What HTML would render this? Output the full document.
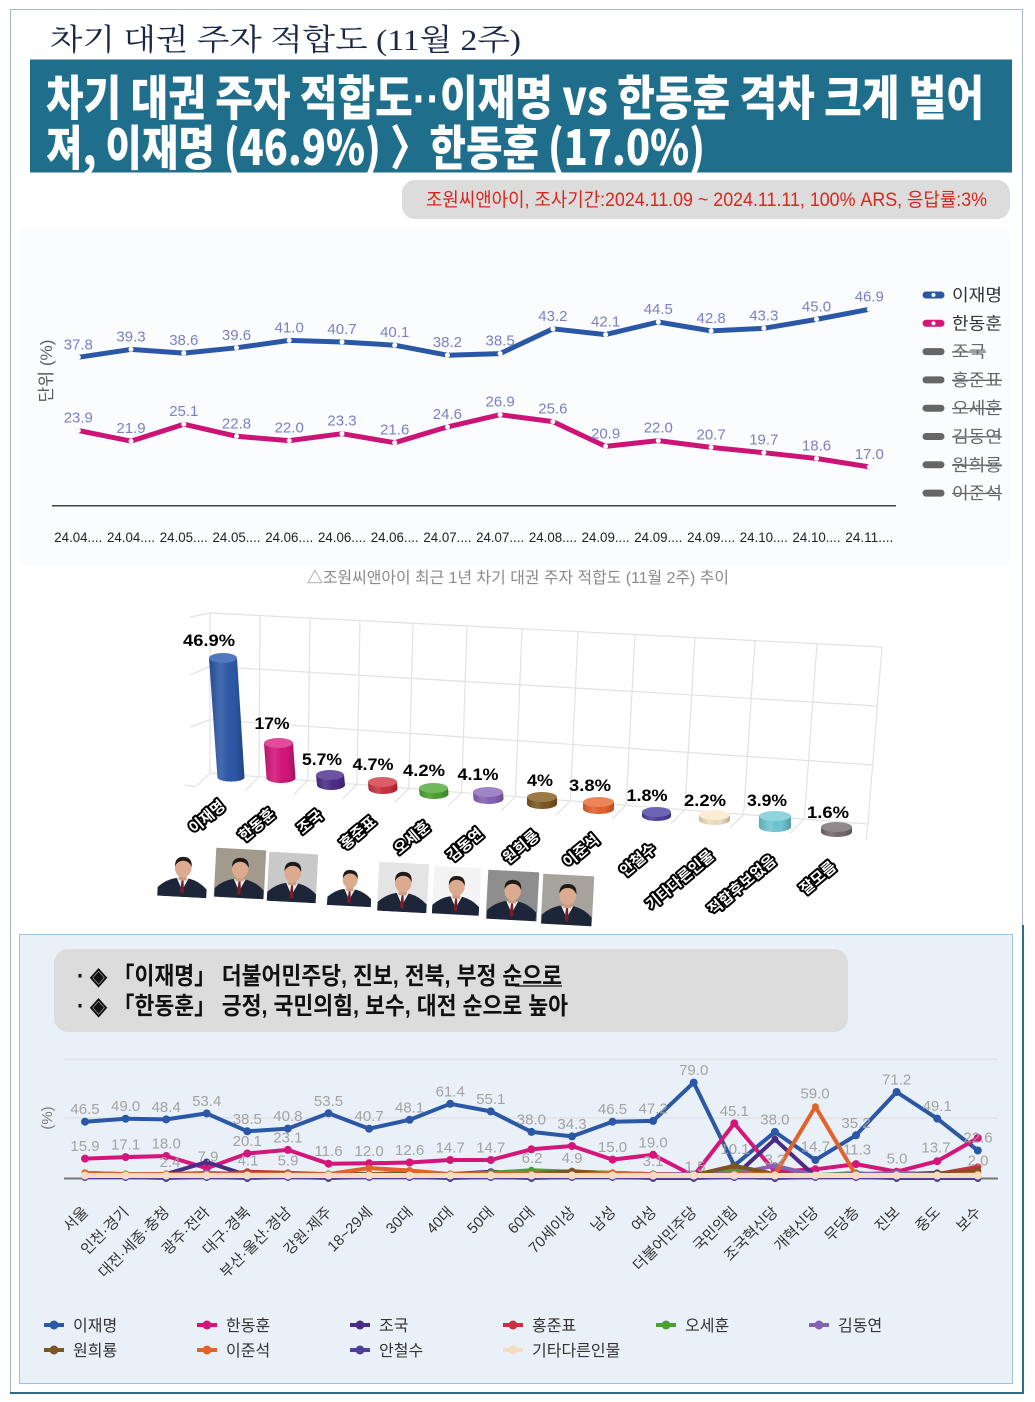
<!DOCTYPE html>
<html><head><meta charset="utf-8">
<style>
html,body{margin:0;padding:0;background:#fff;}
body{width:1035px;height:1402px;overflow:hidden;}
svg{display:block;}
.s{font-family:"Liberation Sans","Noto Sans CJK KR",sans-serif;}
.sf{font-family:"Liberation Serif","Noto Serif CJK SC",serif;}
.h{font-family:"Noto Sans CJK KR","Liberation Sans",sans-serif;font-weight:900;}
.nm{font-family:"Liberation Sans","Noto Sans CJK KR",sans-serif;font-weight:bold;font-size:15px;fill:#fff;stroke:#000;stroke-width:4;paint-order:stroke;stroke-linejoin:round;}
.vl{font-family:"Liberation Sans",sans-serif;font-weight:bold;font-size:17px;fill:#000;}
.tl{font-family:"Liberation Sans",sans-serif;font-size:15px;fill:#7c80c2;}
.bl{font-family:"Liberation Sans",sans-serif;font-size:15px;fill:#a3a3a3;}
.xl{font-family:"Liberation Sans","Noto Sans CJK KR",sans-serif;font-size:15px;fill:#333;}
</style></head><body>
<svg width="1035" height="1402" viewBox="0 0 1035 1402" xmlns="http://www.w3.org/2000/svg">
<defs>
<linearGradient id="cyl" x1="0" y1="0" x2="1" y2="0">
<stop offset="0" stop-color="#000" stop-opacity="0.15"/>
<stop offset="0.35" stop-color="#fff" stop-opacity="0.12"/>
<stop offset="0.7" stop-color="#000" stop-opacity="0"/>
<stop offset="1" stop-color="#000" stop-opacity="0.22"/>
</linearGradient>
<marker id="mw" markerWidth="8" markerHeight="8" refX="4" refY="4" markerUnits="userSpaceOnUse"><circle cx="4" cy="4" r="2.5" fill="#fff"/></marker>
<marker id="m1" markerWidth="10" markerHeight="10" refX="5" refY="5" markerUnits="userSpaceOnUse"><circle cx="5" cy="5" r="4" fill="#2b58a6"/></marker>
<marker id="m2" markerWidth="10" markerHeight="10" refX="5" refY="5" markerUnits="userSpaceOnUse"><circle cx="5" cy="5" r="4" fill="#d4157a"/></marker>
<marker id="m3" markerWidth="10" markerHeight="10" refX="5" refY="5" markerUnits="userSpaceOnUse"><circle cx="5" cy="5" r="3.5" fill="#4b2c85"/></marker>
<marker id="m4" markerWidth="10" markerHeight="10" refX="5" refY="5" markerUnits="userSpaceOnUse"><circle cx="5" cy="5" r="3.5" fill="#c8313f"/></marker>
<marker id="m5" markerWidth="10" markerHeight="10" refX="5" refY="5" markerUnits="userSpaceOnUse"><circle cx="5" cy="5" r="3.5" fill="#4aa032"/></marker>
<marker id="m6" markerWidth="10" markerHeight="10" refX="5" refY="5" markerUnits="userSpaceOnUse"><circle cx="5" cy="5" r="3.5" fill="#8462b3"/></marker>
<marker id="m7" markerWidth="10" markerHeight="10" refX="5" refY="5" markerUnits="userSpaceOnUse"><circle cx="5" cy="5" r="3.5" fill="#7b5522"/></marker>
<marker id="m8" markerWidth="10" markerHeight="10" refX="5" refY="5" markerUnits="userSpaceOnUse"><circle cx="5" cy="5" r="3.5" fill="#e2622c"/></marker>
<marker id="m9" markerWidth="10" markerHeight="10" refX="5" refY="5" markerUnits="userSpaceOnUse"><circle cx="5" cy="5" r="3.5" fill="#4d3f9c"/></marker>
<marker id="m10" markerWidth="10" markerHeight="10" refX="5" refY="5" markerUnits="userSpaceOnUse"><circle cx="5" cy="5" r="4" fill="#f5dcc0"/></marker>
<symbol id="person" viewBox="0 0 50 50">
<path d="M0,50 L0,41 Q8,33 18,31 L32,31 Q42,33 50,41 L50,50 Z" fill="#1d2638"/>
<path d="M19,31 L25,43 L31,31 Z" fill="#f2f2f2"/>
<path d="M24,33 L26,33 L27,45 L25,47 L23,45 Z" fill="#7a1c2a"/>
<rect x="21" y="26" width="8" height="7" fill="#cf9c80"/>
<ellipse cx="25" cy="20" rx="8.5" ry="10" fill="#dcab8f"/>
<path d="M16.5,19 Q16,9 25,9 Q34,9 33.5,19 Q31,13 25,13 Q19,13 16.5,19 Z" fill="#1e1a18"/>
</symbol>
</defs>

<!-- frame -->
<rect x="10.5" y="9.5" width="1012" height="1383" fill="#fff" stroke="#a9bac6" stroke-width="1"/>
<line x1="1023" y1="925" x2="1023" y2="1393" stroke="#2a6f8a" stroke-width="2"/>
<line x1="10" y1="1393" x2="1024" y2="1393" stroke="#2a6f8a" stroke-width="2"/>

<!-- title -->
<text x="50" y="50" class="sf" font-size="30" fill="#1c2747" textLength="471" lengthAdjust="spacingAndGlyphs">차기 대권 주자 적합도 (11월 2주)</text>

<!-- teal header -->
<rect x="30" y="59.5" width="982" height="113" fill="#1f6e8c"/>
<text x="46" y="115" class="h" font-size="48" fill="#fff" textLength="938" lengthAdjust="spacingAndGlyphs">차기 대권 주자 적합도<tspan font-family="Liberation Sans" font-weight="bold">··</tspan>이재명 vs 한동훈 격차 크게 벌어</text>
<text x="46" y="165" class="h" font-size="48" fill="#fff" textLength="659" lengthAdjust="spacingAndGlyphs">져, 이재명 (46.9%) 〉한동훈 (17.0%)</text>

<!-- source pill -->
<rect x="402" y="180" width="608" height="39" rx="13" fill="#dcdcdc"/>
<text x="426" y="206" class="s" font-size="19" fill="#d9261c" textLength="561" lengthAdjust="spacingAndGlyphs">조원씨앤아이, 조사기간:2024.11.09 ~ 2024.11.11, 100% ARS, 응답률:3%</text>

<!-- top line chart -->
<rect x="20" y="228" width="990" height="337" fill="#fbfcfd"/>
<text transform="translate(52,371) rotate(-90)" text-anchor="middle" class="s" font-size="17" fill="#5a5a5a" textLength="63" lengthAdjust="spacingAndGlyphs">단위 (%)</text>
<line x1="52" y1="505.7" x2="896" y2="505.7" stroke="#444" stroke-width="1.5"/>

<polyline points="78.3,357.3 131,349.4 183.8,353.1 236.5,347.8 289.2,340.4 342,342 394.7,345.2 447.4,355.2 500.1,353.6 552.9,328.8 605.6,334.6 658.3,322 711.1,330.9 763.8,328.3 816.5,319.4 869.3,309.3" fill="none" stroke="#2b58a6" stroke-width="5" stroke-linejoin="round" stroke-linecap="round" marker-start="url(#mw)" marker-mid="url(#mw)" marker-end="url(#mw)"/>
<polyline points="78.3,430.5 131,441.1 183.8,424.2 236.5,436.3 289.2,440.6 342,433.7 394.7,442.7 447.4,426.9 500.1,414.7 552.9,421.6 605.6,446.4 658.3,440.6 711.1,447.4 763.8,452.7 816.5,458.5 869.3,466.9" fill="none" stroke="#cc1477" stroke-width="5" stroke-linejoin="round" stroke-linecap="round" marker-start="url(#mw)" marker-mid="url(#mw)" marker-end="url(#mw)"/>

<g class="tl" text-anchor="middle">
<text x="78.3" y="349.3">37.8</text><text x="131" y="341.4">39.3</text><text x="183.8" y="345.1">38.6</text><text x="236.5" y="339.8">39.6</text><text x="289.2" y="332.4">41.0</text><text x="342" y="334">40.7</text><text x="394.7" y="337.2">40.1</text><text x="447.4" y="347.2">38.2</text><text x="500.1" y="345.6">38.5</text><text x="552.9" y="320.8">43.2</text><text x="605.6" y="326.6">42.1</text><text x="658.3" y="314">44.5</text><text x="711.1" y="322.9">42.8</text><text x="763.8" y="320.3">43.3</text><text x="816.5" y="311.4">45.0</text><text x="869.3" y="301.3">46.9</text>
<text x="78.3" y="422.5">23.9</text><text x="131" y="433.1">21.9</text><text x="183.8" y="416.2">25.1</text><text x="236.5" y="428.3">22.8</text><text x="289.2" y="432.6">22.0</text><text x="342" y="425.7">23.3</text><text x="394.7" y="434.7">21.6</text><text x="447.4" y="418.9">24.6</text><text x="500.1" y="406.7">26.9</text><text x="552.9" y="413.6">25.6</text><text x="605.6" y="438.4">20.9</text><text x="658.3" y="432.6">22.0</text><text x="711.1" y="439.4">20.7</text><text x="763.8" y="444.7">19.7</text><text x="816.5" y="450.5">18.6</text><text x="869.3" y="458.9">17.0</text>
</g>

<g class="s" font-size="14" fill="#222" text-anchor="middle">
<text x="78.3" y="542" textLength="48" lengthAdjust="spacingAndGlyphs">24.04....</text>
<text x="131" y="542" textLength="48" lengthAdjust="spacingAndGlyphs">24.04....</text>
<text x="183.8" y="542" textLength="48" lengthAdjust="spacingAndGlyphs">24.05....</text>
<text x="236.5" y="542" textLength="48" lengthAdjust="spacingAndGlyphs">24.05....</text>
<text x="289.2" y="542" textLength="48" lengthAdjust="spacingAndGlyphs">24.06....</text>
<text x="342" y="542" textLength="48" lengthAdjust="spacingAndGlyphs">24.06....</text>
<text x="394.7" y="542" textLength="48" lengthAdjust="spacingAndGlyphs">24.06....</text>
<text x="447.4" y="542" textLength="48" lengthAdjust="spacingAndGlyphs">24.07....</text>
<text x="500.1" y="542" textLength="48" lengthAdjust="spacingAndGlyphs">24.07....</text>
<text x="552.9" y="542" textLength="48" lengthAdjust="spacingAndGlyphs">24.08....</text>
<text x="605.6" y="542" textLength="48" lengthAdjust="spacingAndGlyphs">24.09....</text>
<text x="658.3" y="542" textLength="48" lengthAdjust="spacingAndGlyphs">24.09....</text>
<text x="711.1" y="542" textLength="48" lengthAdjust="spacingAndGlyphs">24.09....</text>
<text x="763.8" y="542" textLength="48" lengthAdjust="spacingAndGlyphs">24.10....</text>
<text x="816.5" y="542" textLength="48" lengthAdjust="spacingAndGlyphs">24.10....</text>
<text x="869.3" y="542" textLength="48" lengthAdjust="spacingAndGlyphs">24.11....</text>
</g>

<!-- top legend -->
<g stroke-linecap="round">
<line x1="926" y1="295" x2="941" y2="295" stroke="#2b58a6" stroke-width="7"/><circle cx="933.5" cy="295" r="2" fill="#fff"/>
<line x1="926" y1="323.3" x2="941" y2="323.3" stroke="#d4157a" stroke-width="7"/><circle cx="933.5" cy="323.3" r="2" fill="#fff"/>
<line x1="926" y1="351.6" x2="941" y2="351.6" stroke="#666" stroke-width="7"/>
<line x1="926" y1="379.9" x2="941" y2="379.9" stroke="#666" stroke-width="7"/>
<line x1="926" y1="408.2" x2="941" y2="408.2" stroke="#666" stroke-width="7"/>
<line x1="926" y1="436.5" x2="941" y2="436.5" stroke="#666" stroke-width="7"/>
<line x1="926" y1="464.8" x2="941" y2="464.8" stroke="#666" stroke-width="7"/>
<line x1="926" y1="493.1" x2="941" y2="493.1" stroke="#666" stroke-width="7"/>
</g>
<g class="s" font-size="17">
<text x="952" y="301" fill="#333" textLength="50" lengthAdjust="spacingAndGlyphs">이재명</text>
<text x="952" y="329.3" fill="#333" textLength="50" lengthAdjust="spacingAndGlyphs">한동훈</text>
<text x="952" y="357.6" fill="#666" textLength="34" lengthAdjust="spacingAndGlyphs">조국</text>
<text x="952" y="385.9" fill="#666" textLength="50" lengthAdjust="spacingAndGlyphs">홍준표</text>
<text x="952" y="414.2" fill="#666" textLength="50" lengthAdjust="spacingAndGlyphs">오세훈</text>
<text x="952" y="442.5" fill="#666" textLength="50" lengthAdjust="spacingAndGlyphs">김동연</text>
<text x="952" y="470.8" fill="#666" textLength="50" lengthAdjust="spacingAndGlyphs">원희룡</text>
<text x="952" y="499.1" fill="#666" textLength="50" lengthAdjust="spacingAndGlyphs">이준석</text>
</g>
<g stroke="#666" stroke-width="1.3">
<line x1="952" y1="352" x2="986" y2="352"/>
<line x1="952" y1="380.3" x2="1002" y2="380.3"/>
<line x1="952" y1="408.6" x2="1002" y2="408.6"/>
<line x1="952" y1="436.9" x2="1002" y2="436.9"/>
<line x1="952" y1="465.2" x2="1002" y2="465.2"/>
<line x1="952" y1="493.5" x2="1002" y2="493.5"/>
</g>

<!-- caption -->
<text x="307" y="583" class="s" font-size="16" fill="#8a8a8a" textLength="422" lengthAdjust="spacingAndGlyphs">△조원씨앤아이 최근 1년 차기 대권 주자 적합도 (11월 2주) 추이</text>

<!-- 3D bar chart grid -->
<g stroke="#e2e2e2" stroke-width="1.2" fill="none">
<line x1="210" y1="613" x2="882" y2="647"/>
<line x1="210" y1="666.3" x2="877.3" y2="706"/>
<line x1="210" y1="719.7" x2="872.7" y2="765"/>
<line x1="210" y1="773" x2="868" y2="824"/>
<line x1="210" y1="613" x2="210" y2="773"/>
<line x1="260" y1="615.5" x2="259" y2="776.8"/>
<line x1="310" y1="618.1" x2="307.9" y2="780.6"/>
<line x1="360" y1="620.6" x2="356.9" y2="784.4"/>
<line x1="413" y1="623.3" x2="408.7" y2="788.4"/>
<line x1="467" y1="626" x2="461.6" y2="792.5"/>
<line x1="522" y1="628.8" x2="515.4" y2="796.7"/>
<line x1="578" y1="631.6" x2="570.3" y2="800.9"/>
<line x1="635" y1="634.5" x2="626.1" y2="805.2"/>
<line x1="695" y1="637.5" x2="684.8" y2="809.8"/>
<line x1="755" y1="640.6" x2="743.6" y2="814.3"/>
<line x1="817" y1="643.7" x2="804.3" y2="819"/>
<line x1="882" y1="647" x2="867.9" y2="824"/>
<line x1="210" y1="773" x2="196" y2="787"/>
<line x1="259" y1="776.8" x2="245" y2="790.8"/>
<line x1="307.9" y1="780.6" x2="293.9" y2="794.6"/>
<line x1="356.9" y1="784.4" x2="342.9" y2="798.4"/>
<line x1="408.7" y1="788.4" x2="394.7" y2="802.4"/>
<line x1="461.6" y1="792.5" x2="447.6" y2="806.5"/>
<line x1="515.4" y1="796.7" x2="501.4" y2="810.7"/>
<line x1="570.3" y1="800.9" x2="556.3" y2="814.9"/>
<line x1="626.1" y1="805.2" x2="612.1" y2="819.2"/>
<line x1="684.8" y1="809.8" x2="670.8" y2="823.8"/>
<line x1="743.6" y1="814.3" x2="729.6" y2="828.3"/>
<line x1="804.3" y1="819" x2="790.3" y2="833"/>
<line x1="867.9" y1="824" x2="866" y2="840"/>
<line x1="210" y1="613" x2="190" y2="617"/>
<line x1="210" y1="666.3" x2="190" y2="675"/>
<line x1="210" y1="719.7" x2="190" y2="727"/>
<line x1="196" y1="787" x2="185" y2="785"/>
</g>

<!-- cylinders -->
<g>
<path d="M209,658 L217.5,778 A14,5 0 0 0 244.5,778 L237,658 Z" fill="#2b58a6"/><path d="M209,658 L217.5,778 A14,5 0 0 0 244.5,778 L237,658 Z" fill="url(#cyl)"/><ellipse cx="223" cy="658" rx="14" ry="5" fill="#4f78be"/>
<path d="M264,743 L266.5,778 A14.5,5 0 0 0 295.5,778 L293,743 Z" fill="#d4157a"/><path d="M264,743 L266.5,778 A14.5,5 0 0 0 295.5,778 L293,743 Z" fill="url(#cyl)"/><ellipse cx="278.5" cy="743" rx="14.5" ry="5" fill="#e04c99"/>
<path d="M316,775 L317,785 A14,5 0 0 0 345,785 L344,775 Z" fill="#4b2c85"/><path d="M316,775 L317,785 A14,5 0 0 0 345,785 L344,775 Z" fill="url(#cyl)"/><ellipse cx="330" cy="775" rx="14" ry="5" fill="#6e52a3"/>
<path d="M368,782 L368.5,789 A14.5,5 0 0 0 397.5,789 L397,782 Z" fill="#c8313f"/><path d="M368,782 L368.5,789 A14.5,5 0 0 0 397.5,789 L397,782 Z" fill="url(#cyl)"/><ellipse cx="382.5" cy="782" rx="14.5" ry="5" fill="#d95c67"/>
<path d="M419,788 L419.5,794 A14.5,5 0 0 0 448.5,794 L448,788 Z" fill="#4aa032"/><path d="M419,788 L419.5,794 A14.5,5 0 0 0 448.5,794 L448,788 Z" fill="url(#cyl)"/><ellipse cx="433.5" cy="788" rx="14.5" ry="5" fill="#70b95c"/>
<path d="M473,792 L473.5,799 A15,5 0 0 0 503.5,799 L503,792 Z" fill="#8462b3"/><path d="M473,792 L473.5,799 A15,5 0 0 0 503.5,799 L503,792 Z" fill="url(#cyl)"/><ellipse cx="488" cy="792" rx="15" ry="5" fill="#a085c6"/>
<path d="M527,797 L527,804 A15,5 0 0 0 557,804 L557,797 Z" fill="#7b5522"/><path d="M527,797 L527,804 A15,5 0 0 0 557,804 L557,797 Z" fill="url(#cyl)"/><ellipse cx="542" cy="797" rx="15" ry="5" fill="#9a7a45"/>
<path d="M583,802 L583,809 A15.5,5 0 0 0 614,809 L614,802 Z" fill="#e2622c"/><path d="M583,802 L583,809 A15.5,5 0 0 0 614,809 L614,802 Z" fill="url(#cyl)"/><ellipse cx="598.5" cy="802" rx="15.5" ry="5" fill="#ec8658"/>
<path d="M642,812 L642,816 A14.5,5 0 0 0 671,816 L671,812 Z" fill="#4d3f9c"/><path d="M642,812 L642,816 A14.5,5 0 0 0 671,816 L671,812 Z" fill="url(#cyl)"/><ellipse cx="656.5" cy="812" rx="14.5" ry="5" fill="#6f64b3"/>
<path d="M699,815 L699,820 A15.5,5 0 0 0 730,820 L730,815 Z" fill="#f0dcbf"/><path d="M699,815 L699,820 A15.5,5 0 0 0 730,820 L730,815 Z" fill="url(#cyl)"/><ellipse cx="714.5" cy="815" rx="15.5" ry="5" fill="#fbecd4"/>
<path d="M759,816 L759,827 A16,5 0 0 0 791,827 L791,816 Z" fill="#6ec6d4"/><path d="M759,816 L759,827 A16,5 0 0 0 791,827 L791,816 Z" fill="url(#cyl)"/><ellipse cx="775" cy="816" rx="16" ry="5" fill="#8fd4df"/>
<path d="M821,827 L821,832 A15.5,5 0 0 0 852,832 L852,827 Z" fill="#726b6d"/><path d="M821,827 L821,832 A15.5,5 0 0 0 852,832 L852,827 Z" fill="url(#cyl)"/><ellipse cx="836.5" cy="827" rx="15.5" ry="5" fill="#8f898b"/>
</g>

<!-- value labels -->
<g class="vl" text-anchor="middle">
<text x="209" y="646" textLength="52" lengthAdjust="spacingAndGlyphs">46.9%</text>
<text x="272" y="729" textLength="35" lengthAdjust="spacingAndGlyphs">17%</text>
<text x="322" y="765" textLength="40" lengthAdjust="spacingAndGlyphs">5.7%</text>
<text x="373" y="770" textLength="41" lengthAdjust="spacingAndGlyphs">4.7%</text>
<text x="424" y="776" textLength="42" lengthAdjust="spacingAndGlyphs">4.2%</text>
<text x="478" y="780" textLength="41" lengthAdjust="spacingAndGlyphs">4.1%</text>
<text x="540" y="786" textLength="26" lengthAdjust="spacingAndGlyphs">4%</text>
<text x="590" y="791" textLength="42" lengthAdjust="spacingAndGlyphs">3.8%</text>
<text x="647" y="801" textLength="41" lengthAdjust="spacingAndGlyphs">1.8%</text>
<text x="705" y="806" textLength="42" lengthAdjust="spacingAndGlyphs">2.2%</text>
<text x="767" y="806" textLength="40" lengthAdjust="spacingAndGlyphs">3.9%</text>
<text x="828" y="818" textLength="42" lengthAdjust="spacingAndGlyphs">1.6%</text>
</g>

<!-- name labels -->
<g class="nm" text-anchor="middle">
<text x="207" y="822" transform="rotate(-40 207 817)">이재명</text>
<text x="257" y="830" transform="rotate(-40 257 825)">한동훈</text>
<text x="310" y="827" transform="rotate(-40 310 822)">조국</text>
<text x="358" y="838" transform="rotate(-40 358 833)">홍준표</text>
<text x="412" y="843" transform="rotate(-40 412 838)">오세훈</text>
<text x="465" y="850" transform="rotate(-40 465 845)">김동연</text>
<text x="521" y="852" transform="rotate(-40 521 847)">원희룡</text>
<text x="581" y="856" transform="rotate(-40 581 851)">이준석</text>
<text x="638" y="865" transform="rotate(-40 638 860)">안철수</text>
<text x="680" y="885" transform="rotate(-40 680 880)">기타다른인물</text>
<text x="742" y="890" transform="rotate(-40 742 885)">적합후보없음</text>
<text x="818" y="883" transform="rotate(-40 818 878)">잘모름</text>
</g>

<!-- photos -->
<g transform="rotate(3 183 872)"><rect x="158" y="848" width="50" height="49" fill="#ffffff"/><use href="#person" x="158" y="848" width="50" height="49"/></g>
<g transform="rotate(3 240 873)"><rect x="215" y="849" width="50" height="49" fill="#a39a8e"/><use href="#person" x="215" y="849" width="50" height="49"/></g>
<g transform="rotate(3 292 877)"><rect x="268" y="853" width="49" height="49" fill="#c9c9c9"/><use href="#person" x="268" y="853" width="49" height="49"/></g>
<g transform="rotate(3 350 884)"><rect x="328" y="860" width="44" height="48" fill="#ffffff"/><use href="#person" x="328" y="860" width="44" height="48"/></g>
<g transform="rotate(3 403 887)"><rect x="378" y="863" width="50" height="49" fill="#e4e4e4"/><use href="#person" x="378" y="863" width="50" height="49"/></g>
<g transform="rotate(3 456 891)"><rect x="433" y="867" width="47" height="48" fill="#f4f4f4"/><use href="#person" x="433" y="867" width="47" height="48"/></g>
<g transform="rotate(3 512 895)"><rect x="487" y="871" width="51" height="49" fill="#8e8e8e"/><use href="#person" x="487" y="871" width="51" height="49"/></g>
<g transform="rotate(3 567 900)"><rect x="542" y="875" width="51" height="50" fill="#a6a29c"/><use href="#person" x="542" y="875" width="51" height="50"/></g>

<!-- bottom box -->
<rect x="19.5" y="934.5" width="993" height="449" fill="#e9f0f7" stroke="#9cc4e4" stroke-width="1"/>
<rect x="54" y="949" width="794" height="83" rx="14" fill="#dcdcdc"/>
<text x="77" y="984" class="s" font-size="24" font-weight="bold" fill="#111" textLength="485" lengthAdjust="spacingAndGlyphs">· ◈ 「이재명」 더불어민주당, 진보, 전북, 부정 순으로</text>
<line x1="515" y1="986" x2="562" y2="986" stroke="#111" stroke-width="1.2"/>
<text x="77" y="1014" class="s" font-size="24" font-weight="bold" fill="#111" textLength="491" lengthAdjust="spacingAndGlyphs">· ◈ 「한동훈」 긍정, 국민의힘, 보수, 대전 순으로 높아</text>

<text transform="translate(52,1118) rotate(-90)" text-anchor="middle" class="s" font-size="15" fill="#777">(%)</text>
<line x1="64" y1="1059.3" x2="998" y2="1059.3" stroke="#dcdcdc" stroke-width="1"/>
<line x1="64" y1="1118" x2="998" y2="1118" stroke="#dcdcdc" stroke-width="1"/>
<line x1="64" y1="1178.5" x2="998" y2="1178.5" stroke="#777" stroke-width="2"/>

<g fill="none" stroke-width="4" stroke-linejoin="round">
<polyline stroke="#2b58a6" marker-start="url(#m1)" marker-mid="url(#m1)" marker-end="url(#m1)" points="85,1121.7 125.6,1118.7 166.2,1119.4 206.7,1113.4 247.3,1131.3 287.9,1128.6 328.5,1113.3 369.1,1128.7 409.6,1119.8 450.2,1103.8 490.8,1111.4 531.4,1131.9 572,1136.4 612.5,1121.7 653.1,1120.9 693.7,1082.6 734.3,1165.5 774.9,1131.9 815.4,1160 856,1135.3 896.6,1092 937.2,1118.6 977.8,1150.5"/>
<polyline stroke="#d4157a" marker-start="url(#m2)" marker-mid="url(#m2)" marker-end="url(#m2)" points="85,1158.6 125.6,1157.1 166.2,1156 206.7,1168.2 247.3,1153.5 287.9,1149.9 328.5,1163.7 369.1,1163.3 409.6,1162.5 450.2,1160 490.8,1160 531.4,1149.3 572,1146 612.5,1159.6 653.1,1154.8 693.7,1175.9 734.3,1123.4 774.9,1171.7 815.4,1169.3 856,1164.1 896.6,1171.7 937.2,1161.2 977.8,1138"/>
<polyline stroke="#4b2c85" marker-start="url(#m3)" marker-mid="url(#m3)" marker-end="url(#m3)" points="85,1175.3 125.6,1175.3 166.2,1174.1 206.7,1162 247.3,1175.3 287.9,1175.3 328.5,1174.1 369.1,1174.1 409.6,1175.3 450.2,1174.1 490.8,1171.7 531.4,1174.1 572,1174.1 612.5,1174.1 653.1,1174.1 693.7,1175.3 734.3,1176.5 774.9,1139.2 815.4,1176.5 856,1175.3 896.6,1174.1 937.2,1172.9 977.8,1176.5"/>
<polyline stroke="#c8313f" marker-start="url(#m4)" marker-mid="url(#m4)" marker-end="url(#m4)" points="85,1172.9 125.6,1174.1 166.2,1174.1 206.7,1176.5 247.3,1171.7 287.9,1172.9 328.5,1174.1 369.1,1175.3 409.6,1174.1 450.2,1174.1 490.8,1172.9 531.4,1171.7 572,1171.7 612.5,1172.9 653.1,1174.1 693.7,1176.5 734.3,1168.1 774.9,1176.5 815.4,1175.3 856,1174.1 896.6,1176.5 937.2,1174.1 977.8,1166.9"/>
<polyline stroke="#4aa032" marker-start="url(#m5)" marker-mid="url(#m5)" marker-end="url(#m5)" points="85,1174.1 125.6,1174.1 166.2,1175.3 206.7,1176.5 247.3,1174.1 287.9,1174.1 328.5,1174.1 369.1,1174.1 409.6,1172.9 450.2,1174.1 490.8,1172.9 531.4,1170.2 572,1171.7 612.5,1172.9 653.1,1174.1 693.7,1176.5 734.3,1170.5 774.9,1176.5 815.4,1175.3 856,1172.9 896.6,1176.5 937.2,1174.1 977.8,1171.7"/>
<polyline stroke="#8462b3" marker-start="url(#m6)" marker-mid="url(#m6)" marker-end="url(#m6)" points="85,1175.3 125.6,1174.1 166.2,1174.1 206.7,1172.9 247.3,1174.1 287.9,1175.3 328.5,1175.3 369.1,1175.3 409.6,1175.3 450.2,1175.3 490.8,1174.1 531.4,1174.1 572,1174.1 612.5,1174.1 653.1,1174.1 693.7,1174.1 734.3,1174.1 774.9,1165.7 815.4,1175.3 856,1174.1 896.6,1172.9 937.2,1174.1 977.8,1175.3"/>
<polyline stroke="#7b5522" marker-start="url(#m7)" marker-mid="url(#m7)" marker-end="url(#m7)" points="85,1174.1 125.6,1175.3 166.2,1174.1 206.7,1175.3 247.3,1174.1 287.9,1174.1 328.5,1174.1 369.1,1174.1 409.6,1174.1 450.2,1174.1 490.8,1174.1 531.4,1174.1 572,1171.1 612.5,1174.1 653.1,1174.1 693.7,1175.3 734.3,1165.7 774.9,1174.1 815.4,1175.3 856,1175.3 896.6,1175.3 937.2,1174.1 977.8,1170.5"/>
<polyline stroke="#e2622c" marker-start="url(#m8)" marker-mid="url(#m8)" marker-end="url(#m8)" points="85,1172.9 125.6,1174.1 166.2,1174.1 206.7,1174.1 247.3,1174.1 287.9,1174.1 328.5,1174.1 369.1,1168.1 409.6,1170.5 450.2,1174.1 490.8,1174.1 531.4,1174.1 572,1175.3 612.5,1172.9 653.1,1174.1 693.7,1176.5 734.3,1174.1 774.9,1174.1 815.4,1106.7 856,1175.3 896.6,1176.5 937.2,1175.3 977.8,1174.1"/>
<polyline stroke="#4d3f9c" stroke-width="3" marker-start="url(#m9)" marker-mid="url(#m9)" marker-end="url(#m9)" points="85,1177.5 125.6,1177.5 166.2,1178.5 206.7,1177.5 247.3,1178.5 287.9,1177.5 328.5,1178.5 369.1,1177.5 409.6,1177.5 450.2,1178.5 490.8,1177.5 531.4,1178.5 572,1177.5 612.5,1177.5 653.1,1178.5 693.7,1178.5 734.3,1177.5 774.9,1178.5 815.4,1177.5 856,1177.5 896.6,1178.5 937.2,1178.5 977.8,1178.5"/>
<polyline stroke="#f5dcc0" stroke-width="5" marker-start="url(#m10)" marker-mid="url(#m10)" marker-end="url(#m10)" points="85,1175.5 125.6,1175.5 166.2,1175.5 206.7,1175.5 247.3,1175.5 287.9,1175.5 328.5,1175.5 369.1,1175.5 409.6,1175.5 450.2,1175.5 490.8,1175.5 531.4,1175.5 572,1175.5 612.5,1175.5 653.1,1175.5 693.7,1175.5 734.3,1175.5 774.9,1175.5 815.4,1175.5 856,1175.5 896.6,1175.5 937.2,1175.5 977.8,1175.5"/>
</g>

<g class="bl" text-anchor="middle">
<text x="85" y="1114.2">46.5</text><text x="125.6" y="1111.2">49.0</text><text x="166.2" y="1111.9">48.4</text><text x="206.7" y="1105.9">53.4</text><text x="247.3" y="1123.8">38.5</text><text x="287.9" y="1121.1">40.8</text><text x="328.5" y="1105.8">53.5</text><text x="369.1" y="1121.2">40.7</text><text x="409.6" y="1112.3">48.1</text><text x="450.2" y="1096.3">61.4</text><text x="490.8" y="1103.9">55.1</text><text x="531.4" y="1124.4">38.0</text><text x="572" y="1128.9">34.3</text><text x="612.5" y="1114.2">46.5</text><text x="653.1" y="1113.4">47.2</text><text x="693.7" y="1075.1">79.0</text><text x="735" y="1154">10.1</text><text x="774.9" y="1124.4">38.0</text><text x="815.4" y="1151.5">14.7</text><text x="856" y="1127.8">35.2</text><text x="896.6" y="1084.5">71.2</text><text x="937.2" y="1111.1">49.1</text><text x="978" y="1142.5">22.6</text>
<text x="85" y="1151.1">15.9</text><text x="125.6" y="1149.6">17.1</text><text x="166.2" y="1148.5">18.0</text><text x="208" y="1161.5">7.9</text><text x="247.3" y="1146">20.1</text><text x="287.9" y="1142.4">23.1</text><text x="328.5" y="1156.2">11.6</text><text x="369.1" y="1155.8">12.0</text><text x="409.6" y="1155">12.6</text><text x="450.2" y="1152.5">14.7</text><text x="490.8" y="1152.5">14.7</text><text x="612.5" y="1152.1">15.0</text><text x="653.1" y="1147.3">19.0</text><text x="695" y="1171.5">1.5</text><text x="734.3" y="1115.9">45.1</text><text x="857" y="1154.5">11.3</text><text x="897" y="1163.5">5.0</text><text x="936" y="1152.5">13.7</text>
<text x="170" y="1167">2.4</text><text x="248" y="1165.5">4.1</text><text x="288" y="1165.5">5.9</text><text x="532" y="1163">6.2</text><text x="572" y="1163">4.9</text><text x="653" y="1166">3.1</text><text x="775" y="1164.5">3.2</text><text x="978" y="1165.5">2.0</text><text x="815" y="1098.5">59.0</text>
</g>

<!-- bottom x labels -->
<g class="xl" text-anchor="end">
<text x="89" y="1213" transform="rotate(-45 89 1213)">서울</text>
<text x="129.6" y="1213" transform="rotate(-45 129.6 1213)">인천·경기</text>
<text x="170.2" y="1213" transform="rotate(-45 170.2 1213)">대전·세종·충청</text>
<text x="210.7" y="1213" transform="rotate(-45 210.7 1213)">광주·전라</text>
<text x="251.3" y="1213" transform="rotate(-45 251.3 1213)">대구·경북</text>
<text x="291.9" y="1213" transform="rotate(-45 291.9 1213)">부산·울산·경남</text>
<text x="332.5" y="1213" transform="rotate(-45 332.5 1213)">강원·제주</text>
<text x="373.1" y="1213" transform="rotate(-45 373.1 1213)">18~29세</text>
<text x="413.6" y="1213" transform="rotate(-45 413.6 1213)">30대</text>
<text x="454.2" y="1213" transform="rotate(-45 454.2 1213)">40대</text>
<text x="494.8" y="1213" transform="rotate(-45 494.8 1213)">50대</text>
<text x="535.4" y="1213" transform="rotate(-45 535.4 1213)">60대</text>
<text x="576" y="1213" transform="rotate(-45 576 1213)">70세이상</text>
<text x="616.5" y="1213" transform="rotate(-45 616.5 1213)">남성</text>
<text x="657.1" y="1213" transform="rotate(-45 657.1 1213)">여성</text>
<text x="697.7" y="1213" transform="rotate(-45 697.7 1213)">더불어민주당</text>
<text x="738.3" y="1213" transform="rotate(-45 738.3 1213)">국민의힘</text>
<text x="778.9" y="1213" transform="rotate(-45 778.9 1213)">조국혁신당</text>
<text x="819.4" y="1213" transform="rotate(-45 819.4 1213)">개혁신당</text>
<text x="860" y="1213" transform="rotate(-45 860 1213)">무당층</text>
<text x="900.6" y="1213" transform="rotate(-45 900.6 1213)">진보</text>
<text x="941.2" y="1213" transform="rotate(-45 941.2 1213)">중도</text>
<text x="981.8" y="1213" transform="rotate(-45 981.8 1213)">보수</text>
</g>

<!-- bottom legend -->
<g stroke-width="4">
<line x1="44" y1="1325" x2="64" y2="1325" stroke="#2b58a6"/><circle cx="54" cy="1325" r="4.5" fill="#2b58a6"/>
<line x1="197" y1="1325" x2="217" y2="1325" stroke="#d4157a"/><circle cx="207" cy="1325" r="4.5" fill="#d4157a"/>
<line x1="350" y1="1325" x2="370" y2="1325" stroke="#4b2c85"/><circle cx="360" cy="1325" r="4.5" fill="#4b2c85"/>
<line x1="503" y1="1325" x2="523" y2="1325" stroke="#c8313f"/><circle cx="513" cy="1325" r="4.5" fill="#c8313f"/>
<line x1="656" y1="1325" x2="676" y2="1325" stroke="#4aa032"/><circle cx="666" cy="1325" r="4.5" fill="#4aa032"/>
<line x1="809" y1="1325" x2="829" y2="1325" stroke="#8462b3"/><circle cx="819" cy="1325" r="4.5" fill="#8462b3"/>
<line x1="44" y1="1350" x2="64" y2="1350" stroke="#7b5522"/><circle cx="54" cy="1350" r="4.5" fill="#7b5522"/>
<line x1="197" y1="1350" x2="217" y2="1350" stroke="#e2622c"/><circle cx="207" cy="1350" r="4.5" fill="#e2622c"/>
<line x1="350" y1="1350" x2="370" y2="1350" stroke="#4d3f9c"/><circle cx="360" cy="1350" r="4.5" fill="#4d3f9c"/>
<line x1="503" y1="1350" x2="523" y2="1350" stroke="#f3dcc0"/><circle cx="513" cy="1350" r="4.5" fill="#f3dcc0"/>
</g>
<g class="s" font-size="16" fill="#333">
<text x="73" y="1331">이재명</text>
<text x="226" y="1331">한동훈</text>
<text x="379" y="1331">조국</text>
<text x="532" y="1331">홍준표</text>
<text x="685" y="1331">오세훈</text>
<text x="838" y="1331">김동연</text>
<text x="73" y="1356">원희룡</text>
<text x="226" y="1356">이준석</text>
<text x="379" y="1356">안철수</text>
<text x="532" y="1356">기타다른인물</text>
</g>
</svg>
</body></html>
